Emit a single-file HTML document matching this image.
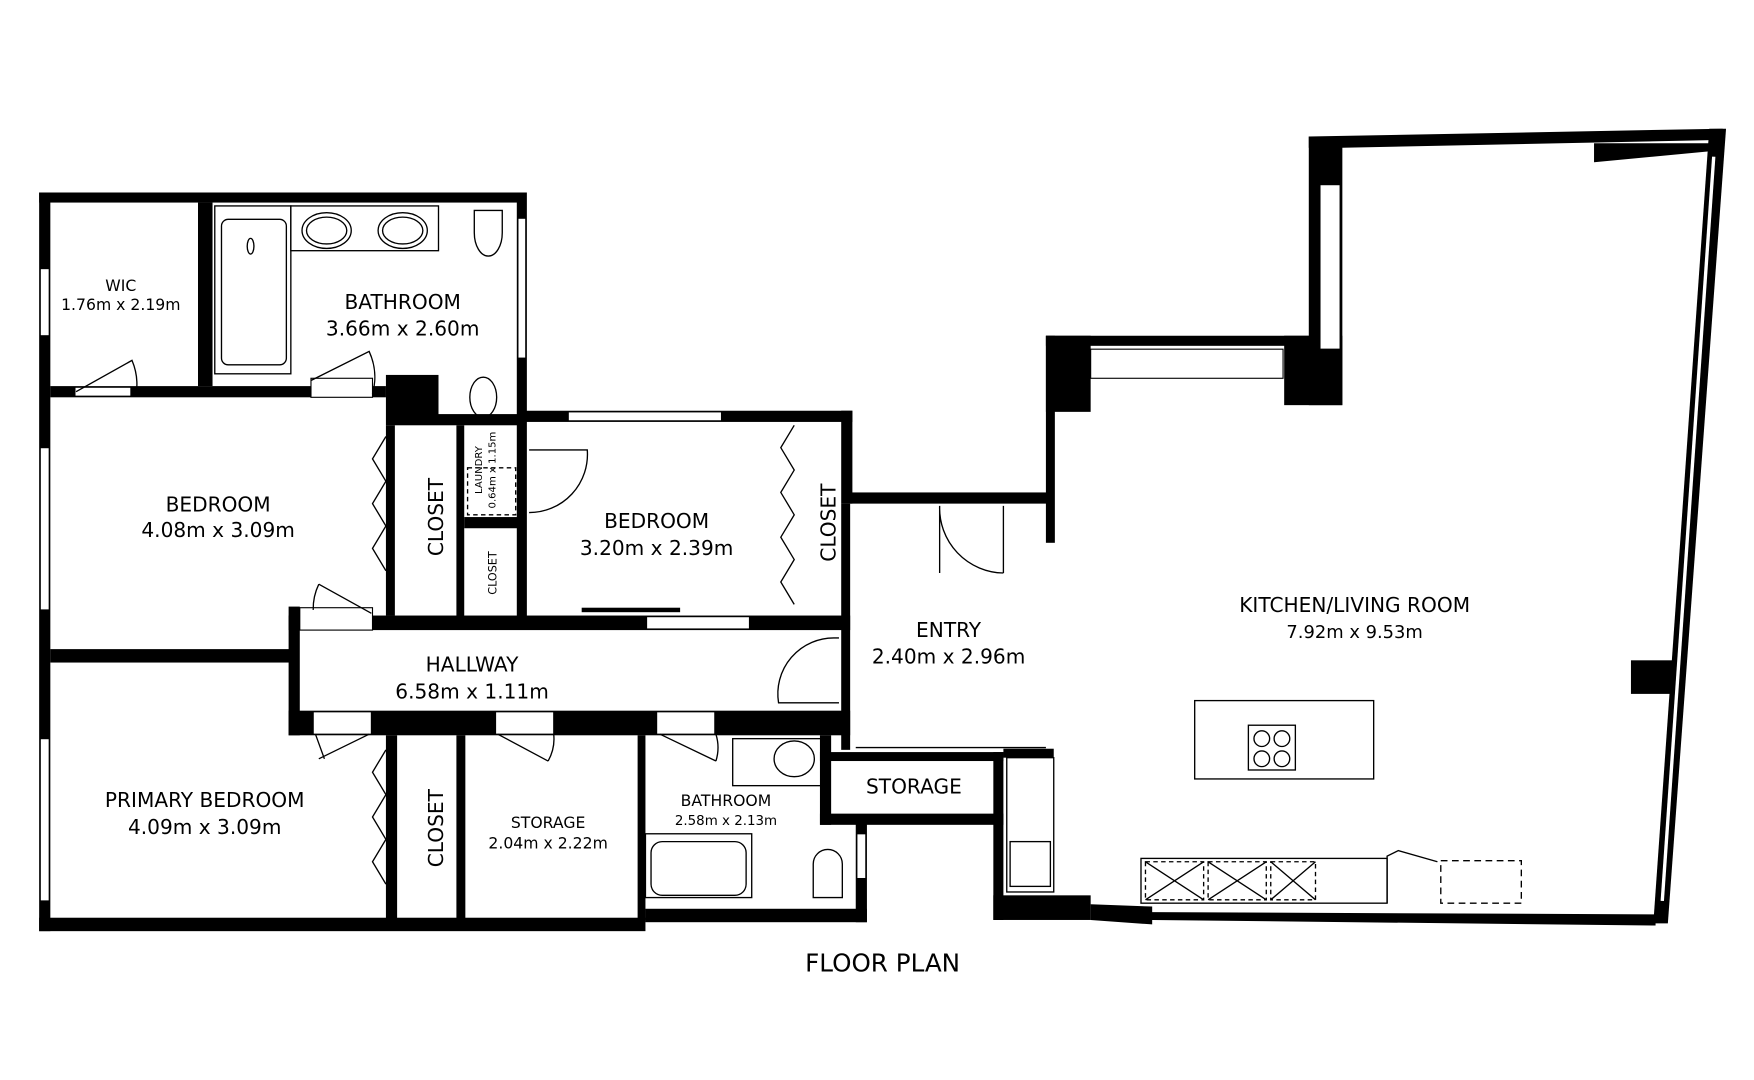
<!DOCTYPE html>
<html><head><meta charset="utf-8"><style>
html,body{margin:0;padding:0;background:#fff;width:1754px;height:1080px;overflow:hidden}
svg{display:block}
text{font-family:"DejaVu Sans","Liberation Sans",sans-serif;fill:#000;text-anchor:middle}
.L{font-size:18px}.S{font-size:14px}.T{font-size:12px}
</style></head><body>
<svg width="1754" height="1080" viewBox="0 0 1568 965" preserveAspectRatio="none">
<g fill="#000">
<rect x="35" y="172" width="435" height="9"/>
<rect x="35" y="172" width="10" height="660"/>
<rect x="35" y="820" width="542" height="12"/>
<rect x="577" y="812" width="198" height="12"/>
<rect x="765" y="735" width="10" height="89"/>
<rect x="462" y="172" width="9" height="205"/>
<rect x="177" y="181" width="13" height="164"/>
<rect x="45" y="345" width="300" height="10"/>
<rect x="345" y="335" width="47" height="45"/>
<rect x="392" y="370" width="78" height="10"/>
<rect x="345" y="380" width="8" height="170"/>
<rect x="408" y="380" width="7" height="175"/>
<rect x="415" y="462" width="50" height="10"/>
<rect x="462" y="377" width="9" height="178"/>
<rect x="45" y="580" width="215" height="12"/>
<rect x="470" y="367" width="292" height="10"/>
<rect x="752" y="367" width="10" height="83"/>
<rect x="752" y="450" width="8" height="110"/>
<rect x="258" y="542" width="10" height="115"/>
<rect x="258" y="550" width="502" height="13"/>
<rect x="258" y="635" width="502" height="22"/>
<rect x="752" y="560" width="8" height="110"/>
<rect x="345" y="657" width="10" height="165"/>
<rect x="408" y="657" width="8" height="165"/>
<rect x="570" y="657" width="7" height="165"/>
<rect x="733" y="657" width="10" height="80"/>
<rect x="733" y="672" width="164" height="8"/>
<rect x="733" y="727" width="164" height="10"/>
<rect x="888" y="672" width="9" height="150"/>
<rect x="888" y="800" width="87" height="22"/>
<rect x="897" y="669" width="45" height="8"/>
<rect x="760" y="440" width="180" height="10"/>
<rect x="935" y="300" width="8" height="185"/>
<rect x="935" y="300" width="240" height="9"/>
<rect x="935" y="300" width="40" height="68"/>
<rect x="1148" y="300" width="52" height="62"/>
<rect x="1170" y="122" width="30" height="240"/>
<polygon points="1170,122 1540,115 1540,125 1200,132 1170,132"/>
<polygon points="1425,128 1530,128 1530,135 1425,145"/>
<polygon points="1528,115 1543,115 1491,825 1478,825"/>
<rect x="1458" y="590" width="45" height="30"/>
<polygon points="975,808 1030,810 1030,815 1480,817 1480,827 1030,822 1030,826 975,822"/>
</g>
<g fill="#fff" stroke="#000" stroke-width="1">
<rect x="1180" y="165" width="18" height="147"/>
<rect x="975" y="312" width="172" height="26"/>
<rect x="36" y="240" width="8" height="60"/>
<rect x="36" y="400" width="8" height="145"/>
<rect x="36" y="660" width="8" height="145"/>
<rect x="463" y="195" width="7" height="125"/>
<rect x="508" y="368" width="137" height="8"/>
<rect x="578" y="551" width="92" height="11"/>
<rect x="766" y="745" width="8" height="40"/>
<rect x="67" y="346" width="50" height="8"/>
<rect x="278" y="338" width="55" height="17"/>
<rect x="268" y="543" width="65" height="20"/>
<rect x="280" y="636" width="52" height="20"/>
<rect x="443" y="636" width="52" height="20"/>
<rect x="587" y="636" width="52" height="20"/>
</g>
<polyline points="1532,140 1486,805" stroke="#fff" stroke-width="3" fill="none"/>
<g fill="none" stroke="#000" stroke-width="1.2">
<rect x="192" y="184" width="68" height="150"/>
<rect x="198" y="196" width="58" height="130" rx="6"/>
<ellipse cx="224" cy="220" rx="3" ry="7"/>
<rect x="260" y="184" width="132" height="40"/>
<ellipse cx="292" cy="206" rx="22" ry="16"/><ellipse cx="292" cy="206" rx="18" ry="12"/>
<ellipse cx="360" cy="206" rx="22" ry="16"/><ellipse cx="360" cy="206" rx="18" ry="12"/>
<path d="M424,188 h25 v20 a12,20 0 0 1 -25,0 z"/>
<ellipse cx="432" cy="355" rx="12" ry="18"/>
<rect x="418" y="418" width="43" height="42" stroke-dasharray="4,3"/>
<rect x="1068" y="626" width="160" height="70"/>
<rect x="1116" y="648" width="42" height="40"/>
<circle cx="1128" cy="660" r="7"/><circle cx="1146" cy="660" r="7"/><circle cx="1128" cy="678" r="7"/><circle cx="1146" cy="678" r="7"/>
<rect x="1020" y="767" width="220" height="40"/>
<rect x="1024" y="770" width="52" height="34" stroke-dasharray="4,3"/>
<rect x="1080" y="770" width="52" height="34" stroke-dasharray="4,3"/>
<rect x="1136" y="770" width="40" height="34" stroke-dasharray="4,3"/>
<path d="M1024,770 L1076,804 M1076,770 L1024,804 M1080,770 L1132,804 M1132,770 L1080,804 M1136,770 L1176,804 M1176,770 L1136,804"/>
<rect x="1288" y="769" width="72" height="38" stroke-dasharray="6,4"/>
<path d="M1240,807 V765 L1250,760 L1285,770"/>
<rect x="900" y="677" width="42" height="120"/>
<rect x="903" y="752" width="36" height="40"/>
<rect x="655" y="660" width="80" height="42"/>
<ellipse cx="710" cy="678" rx="18" ry="16"/>
<rect x="577" y="745" width="95" height="57"/>
<rect x="582" y="752" width="85" height="48" rx="10"/>
<path d="M727,802 v-30 a13,13 0 0 1 26,0 v30 z"/>
<path d="M840,452 v60 M840,452 A58,58 0 0 0 897,512 M897,452 v60"/>
<path d="M473,402 h52 A52,52 0 0 1 473,458"/>
<path d="M750,570 h-4 A50,50 0 0 0 696,628 h54"/>
<path d="M68,350 L118,322 A55,55 0 0 1 122,350"/>
<path d="M278,340 L330,314 A55,55 0 0 1 333,352"/>
<path d="M332,548 L285,522 M280,545 A50,50 0 0 1 285,522"/>
<path d="M282,656 L290,678 M330,656 L285,678"/>
<path d="M445,656 L490,680 M495,656 A40,40 0 0 1 490,680"/>
<path d="M590,656 L640,680 M640,656 A40,40 0 0 1 640,680"/>
<path d="M345,390 l-12,20 l12,20 l-12,20 l12,20 l-12,20 l12,20"/>
<path d="M345,670 l-12,20 l12,20 l-12,20 l12,20 l-12,20 l12,20"/>
<path d="M710,380 l-12,20 l12,20 l-12,20 l12,20 l-12,20 l12,20 l-12,20 l12,20"/>
<path d="M765,668 h170"/>
</g>
<rect x="520" y="543" width="88" height="4" fill="#000"/>
<text class="S" x="108" y="260">WIC</text>
<text class="S" x="108" y="277">1.76m x 2.19m</text>
<text class="L" x="360" y="276">BATHROOM</text>
<text class="L" x="360" y="300">3.66m x 2.60m</text>
<text class="L" x="195" y="457">BEDROOM</text>
<text class="L" x="195" y="480">4.08m x 3.09m</text>
<text class="L" x="587" y="472">BEDROOM</text>
<text class="L" x="587" y="496">3.20m x 2.39m</text>
<text class="L" x="422" y="600">HALLWAY</text>
<text class="L" x="422" y="624">6.58m x 1.11m</text>
<text class="L" x="848" y="569">ENTRY</text>
<text class="L" x="848" y="593">2.40m x 2.96m</text>
<text class="L" x="1211" y="547">KITCHEN/LIVING ROOM</text>
<text class="L" style="font-size:16px" x="1211" y="570">7.92m x 9.53m</text>
<text class="L" x="183" y="721">PRIMARY BEDROOM</text>
<text class="L" x="183" y="745">4.09m x 3.09m</text>
<text class="S" x="490" y="740">STORAGE</text>
<text class="S" x="490" y="758">2.04m x 2.22m</text>
<text class="S" x="649" y="720">BATHROOM</text>
<text class="T" x="649" y="737">2.58m x 2.13m</text>
<text class="L" x="817" y="709">STORAGE</text>
<text class="L" style="font-size:22px" x="789" y="868">FLOOR PLAN</text>
<text class="L" transform="translate(389,462) rotate(-90)" dy="7">CLOSET</text>
<text class="L" transform="translate(740,467) rotate(-90)" dy="7">CLOSET</text>
<text class="L" transform="translate(389,740) rotate(-90)" dy="7">CLOSET</text>
<text class="T" style="font-size:10px" transform="translate(440,512) rotate(-90)" dy="4">CLOSET</text>
<text class="T" style="font-size:9px" transform="translate(428,420) rotate(-90)" dy="3">LAUNDRY</text>
<text class="T" style="font-size:9px" transform="translate(440,420) rotate(-90)" dy="3">0.64m x 1.15m</text>
</svg>
</body></html>
